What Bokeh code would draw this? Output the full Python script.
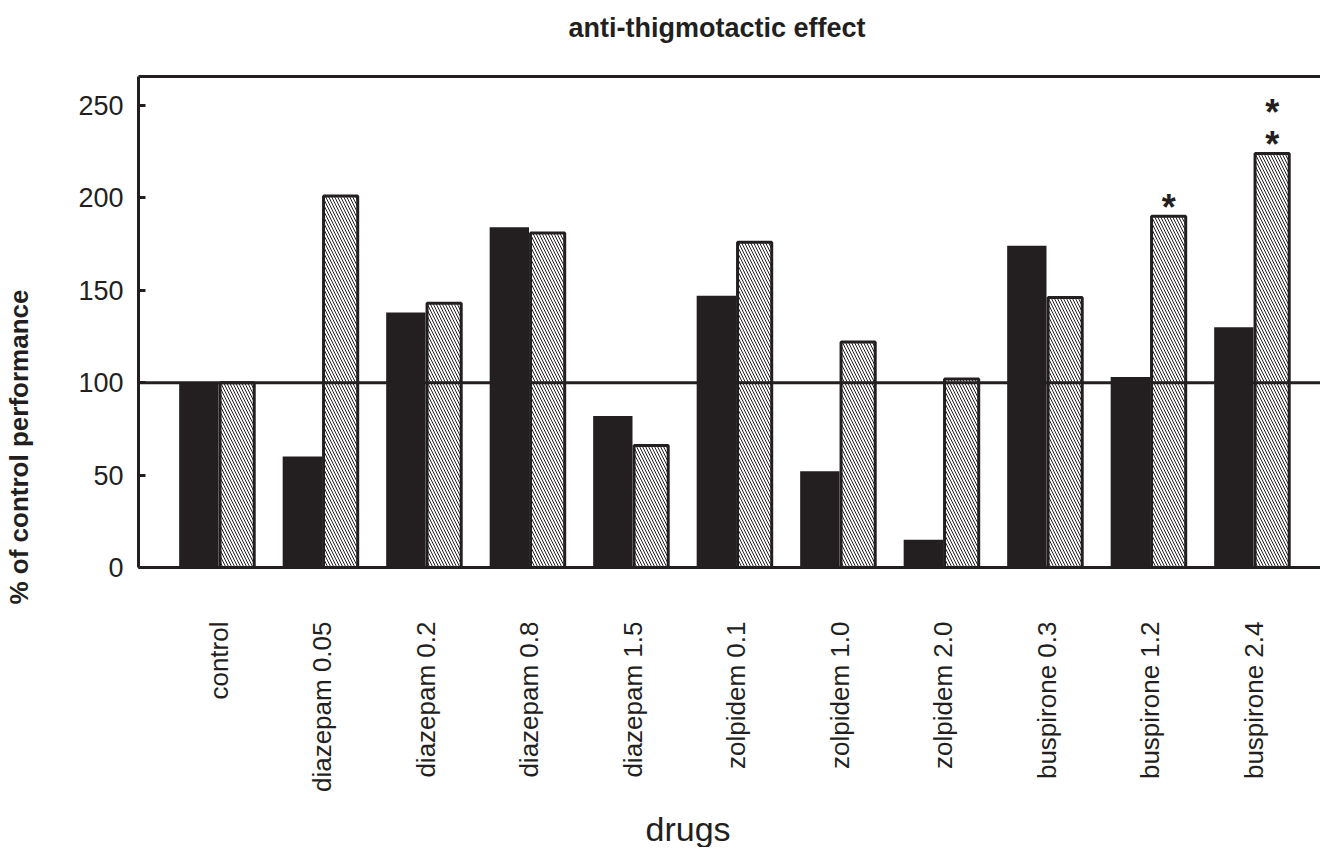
import math
from bokeh.plotting import figure
from bokeh.models import Range1d, FixedTicker, LinearAxis, Span, Title, ColumnDataSource
from bokeh.core.properties import value
from bokeh.embed import file_html
from bokeh.resources import INLINE

# ---- data ----
drugs = ["control", "diazepam 0.05", "diazepam 0.2", "diazepam 0.8", "diazepam 1.5",
         "zolpidem 0.1", "zolpidem 1.0", "zolpidem 2.0",
         "buspirone 0.3", "buspirone 1.2", "buspirone 2.4"]
black_values = [100, 60, 138, 184, 82, 147, 52, 15, 174, 103, 130]
hatched_values = [100, 201, 143, 181, 66, 176, 122, 102, 146, 190, 224]
significance = [0, 0, 0, 0, 0, 0, 0, 0, 0, 1, 2]   # number of asterisks over hatched bar
y_ticks = [0, 50, 100, 150, 200, 250]
control_level = 100

title_text = "anti-thigmotactic effect"
y_label_text = "% of control performance"
x_label_text = "drugs"

INK = "#231f20"
FONT = "Liberation Sans"

# ---- layout helpers ----
W, H = 1320, 847
LEFT, TOP = 138, 76
PX_PER_CAT = 103.5
FRAME_W = W - LEFT
FRAME_H = 493
Y_TOP = 265.6
X_START = -80 / PX_PER_CAT

idx = list(range(len(drugs)))
black_src = ColumnDataSource(dict(x=[i - 0.19 for i in idx], top=black_values))
hatch_src = ColumnDataSource(dict(x=[i + 0.18 for i in idx], top=hatched_values))

star_x, star_y = [], []
for i, k in enumerate(significance):
    for j in range(k):
        star_x.append(i + 0.18)
        star_y.append(hatched_values[i] + 5 + 17 * j)
star_src = ColumnDataSource(dict(x=star_x, y=star_y, t=["*"] * len(star_x)))

p = figure(width=W, height=H, output_backend="svg", toolbar_location=None, title=None,
           x_range=Range1d(X_START, X_START + FRAME_W / PX_PER_CAT),
           y_range=Range1d(0, Y_TOP),
           min_border_left=LEFT, min_border_right=0, min_border_top=TOP,
           min_border_bottom=H - TOP - FRAME_H)
p.grid.visible = False
p.outline_line_color = None
p.background_fill_color = "white"
p.border_fill_color = "white"

# bars
p.vbar(x="x", top="top", bottom=0, width=0.38, source=black_src,
       fill_color=INK, line_color=None)
p.vbar(x="x", top="top", bottom=0, width=0.33, source=hatch_src,
       fill_color="white", line_color=INK, line_width=3,
       hatch_pattern="\\", hatch_color=INK, hatch_scale=6, hatch_weight=1)

# control reference line
p.add_layout(Span(location=control_level, dimension="width", line_color=INK, line_width=3))

# asterisks
p.text(x="x", y="y", text="t", source=star_src, text_font=value(FONT),
       text_font_style="bold", text_font_size="36px", text_color=INK,
       text_align="center", text_baseline="middle")

# y axis (its blank axis label only reserves room before the name)
ya = p.yaxis[0]
ya.ticker = FixedTicker(ticks=y_ticks)
ya.axis_line_width = 3
ya.axis_line_color = INK
ya.major_tick_in = 7
ya.major_tick_out = 0
ya.major_tick_line_width = 3
ya.major_tick_line_color = INK
ya.minor_tick_line_color = None
ya.major_label_text_font = FONT
ya.major_label_text_font_size = "27px"
ya.major_label_text_color = INK
ya.major_label_standoff = 15
ya.axis_label = " "
ya.axis_label_text_font_size = "1px"
ya.axis_label_standoff = 38

# x axis
xa = p.xaxis[0]
xa.ticker = FixedTicker(ticks=idx)
xa.major_label_overrides = {i: d for i, d in zip(idx, drugs)}
xa.major_label_orientation = math.pi / 2
xa.axis_line_width = 3
xa.axis_line_color = INK
xa.major_tick_line_color = None
xa.minor_tick_line_color = None
xa.major_tick_in = 0
xa.major_tick_out = 0
xa.major_label_standoff = 54
xa.major_label_text_font = FONT
xa.major_label_text_font_size = "26px"
xa.major_label_text_color = INK
xa.axis_label = " "
xa.axis_label_text_font_size = "1px"
xa.axis_label_standoff = 8

# top border line
p.extra_x_ranges = {"top": Range1d(0, 1)}
top_axis = LinearAxis(x_range_name="top", ticker=FixedTicker(ticks=[]),
                      axis_line_width=3, axis_line_color=INK,
                      major_tick_line_color=None, minor_tick_line_color=None,
                      major_label_text_font_size="0px", major_label_standoff=0,
                      major_tick_in=0, major_tick_out=0,
                      axis_label=" ", axis_label_text_font_size="1px",
                      axis_label_standoff=30)
p.add_layout(top_axis, "above")

# titles / axis names
p.add_layout(Title(text=title_text, align="left", offset=568 - LEFT, standoff=0,
                   vertical_align="bottom",
                   text_font=FONT, text_font_style="bold", text_font_size="27px",
                   text_color=INK), "above")
p.add_layout(Title(text=y_label_text, align="left", offset=-37, standoff=0,
                   vertical_align="bottom",
                   text_font=FONT, text_font_style="bold", text_font_size="26px",
                   text_color=INK), "left")
p.add_layout(Title(text=x_label_text, align="left", offset=645 - LEFT, standoff=0,
                   vertical_align="bottom",
                   text_font=FONT, text_font_style="normal", text_font_size="34px",
                   text_color=INK), "below")

open("out.html", "w").write(file_html(p, INLINE))
